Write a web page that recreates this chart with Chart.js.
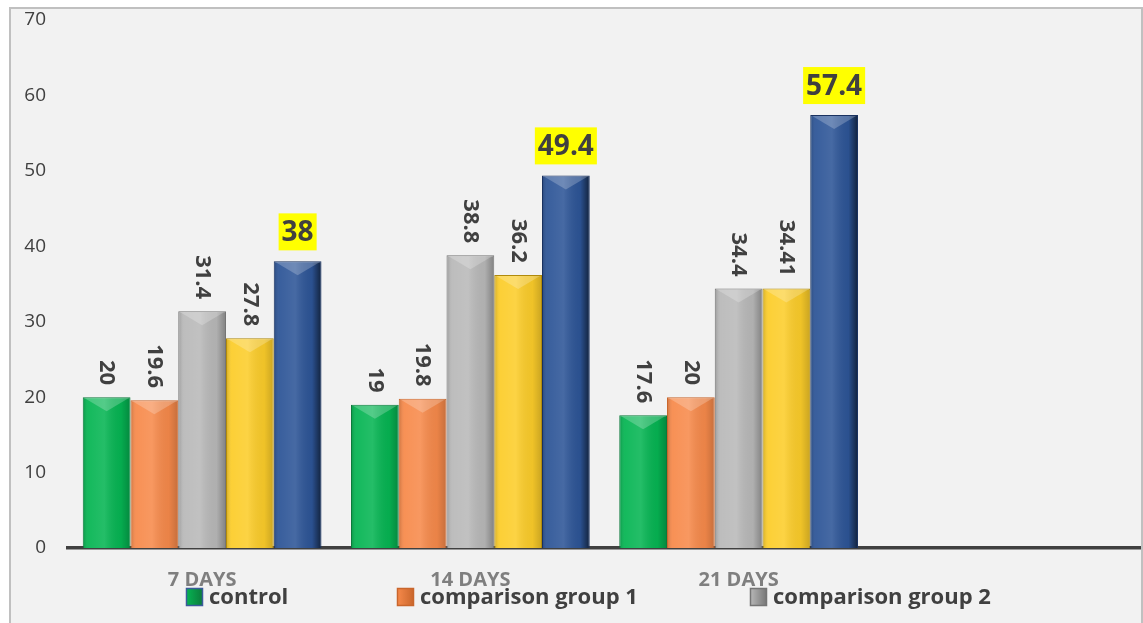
<!DOCTYPE html>
<html>
<head>
<meta charset="utf-8">
<script src="https://cdn.jsdelivr.net/npm/chart.js@4.4.0/dist/chart.umd.min.js"></script>
<style>
  html, body { margin: 0; padding: 0; background: #ffffff; overflow: hidden; }
  #frame {
    position: absolute; left: 9px; top: 7px;
    width: 1130px; height: 620px;
    background: #f2f2f2;
    border: 2px solid #c0c0c0; border-bottom: none;
  }
  #box { position: relative; width: 1130px; height: 614px; }
</style>
</head>
<body>
<div id="frame"><div id="box"><canvas id="myChart"></canvas></div></div>
<script>
// data
const categories = ["7 DAYS", "14 DAYS", "21 DAYS", ""];
const seriesNames = ["control", "comparison group 1", "comparison group 2", "comparison group 3", "comparison group 4"];
const control = [20, 19, 17.6];
const group1 = [19.6, 19.8, 20];
const group2 = [31.4, 38.8, 34.4];
const group3 = [27.8, 36.2, 34.41];
const group4 = [38, 49.4, 57.4];
const yTicks = [0, 10, 20, 30, 40, 50, 60, 70];

const fills = ["#06b553", "#f78a4b", "#b9b9b9", "#fccd2a", "#2d5597"];
const edges = ["#0c7a3b", "#c9662c", "#757575", "#b08a0c", "#1a3260"];
const shadeRight = [0.25, 0.2, 0.3, 0.2, 0.6];

const values = [control, group1, group2, group3, group4];

const data = {
  labels: categories,
  datasets: values.map((v, i) => ({
    label: seriesNames[i],
    data: v,
    backgroundColor: fills[i],
    borderColor: edges[i],
    borderWidth: 1,
  })),
};

// bevel-ish shading on top of the flat bars
const shading = {
  id: "shading",
  afterDatasetsDraw(chart) {
    const ctx = chart.ctx;
    chart.data.datasets.forEach((ds, di) => {
      chart.getDatasetMeta(di).data.forEach((bar) => {
        const p = bar.getProps(["x", "y", "base", "width"], true);
        const l = p.x - p.width / 2, r = p.x + p.width / 2;
        const g = ctx.createLinearGradient(l, 0, r, 0);
        g.addColorStop(0, "rgba(0,0,0,0.18)");
        g.addColorStop(0.12, "rgba(255,255,255,0.06)");
        g.addColorStop(0.45, "rgba(255,255,255,0.12)");
        g.addColorStop(0.8, "rgba(0,0,0,0.05)");
        g.addColorStop(1, "rgba(0,0,0," + shadeRight[di] + ")");
        ctx.save();
        ctx.fillStyle = g;
        ctx.fillRect(l + 1, p.y + 1, p.width - 2, p.base - p.y - 1);
        ctx.beginPath();
        ctx.moveTo(l + 2, p.y + 1);
        ctx.lineTo(r - 2, p.y + 1);
        ctx.lineTo(p.x, p.y + 14);
        ctx.closePath();
        ctx.fillStyle = "rgba(255,255,255,0.22)";
        ctx.fill();
        ctx.restore();
      });
    });
  },
};

// value labels
const valueLabels = {
  id: "valueLabels",
  afterDatasetsDraw(chart) {
    const ctx = chart.ctx;
    chart.data.datasets.forEach((ds, di) => {
      chart.getDatasetMeta(di).data.forEach((bar, i) => {
        const txt = String(ds.data[i]);
        const p = bar.getProps(["x", "y"], true);
        ctx.save();
        if (di < 4) {
          ctx.font = "bold 22px 'Open Sans'";
          ctx.fillStyle = "#404040";
          ctx.translate(p.x, p.y - 12);
          ctx.rotate(Math.PI / 2);
          ctx.textAlign = "right";
          ctx.textBaseline = "middle";
          ctx.fillText(txt, 0, 0);
        } else {
          ctx.font = "bold 28px 'Open Sans'";
          const w = ctx.measureText(txt).width;
          const bottom = p.y - 11;
          ctx.fillStyle = "#ffff00";
          ctx.fillRect(p.x - w / 2 - 3, bottom - 37, w + 6, 37);
          ctx.fillStyle = "#404040";
          ctx.textAlign = "center";
          ctx.textBaseline = "middle";
          ctx.fillText(txt, p.x, bottom - 17);
        }
        ctx.restore();
      });
    });
  },
};

// legend (only the first three series appear in it)
const legendX = [175, 386, 739];
const bottomLegend = {
  id: "bottomLegend",
  afterDraw(chart) {
    const ctx = chart.ctx;
    const cy = 588;
    legendX.forEach((x, i) => {
      ctx.save();
      const g = ctx.createLinearGradient(x, 0, x + 17, 0);
      g.addColorStop(0, fills[i]);
      g.addColorStop(1, edges[i]);
      ctx.fillStyle = g;
      ctx.fillRect(x, cy - 9, 17, 18);
      ctx.strokeStyle = i === 0 ? "#3b5b9b" : edges[i];
      ctx.lineWidth = 1.5;
      ctx.strokeRect(x + 0.5, cy - 8.5, 16, 17);
      ctx.font = "bold 22px 'Open Sans'";
      ctx.fillStyle = "#404040";
      ctx.textBaseline = "middle";
      ctx.fillText(seriesNames[i], x + 23, cy + 1);
      ctx.restore();
    });
  },
};

// config
const config = {
  type: "bar",
  data,
  plugins: [shading, valueLabels, bottomLegend],
  options: {
    responsive: true,
    maintainAspectRatio: false,
    animation: false,
    layout: { padding: { top: 0, right: 0, bottom: 0, left: 0 } },
    datasets: {
      bar: { categoryPercentage: 0.89, barPercentage: 1.0 },
    },
    scales: {
      x: {
        grid: { display: false, drawTicks: false },
        border: { display: true, color: "#404040", width: 3.5 },
        ticks: {
          color: "#7f7f7f",
          font: { family: "'Open Sans'", size: 20, weight: "bold" },
          padding: 20,
          maxRotation: 0,
          autoSkip: false,
        },
        afterFit(scale) { scale.height = 75; },
      },
      y: {
        min: 0,
        max: 70,
        grid: { display: false, drawTicks: false },
        border: { display: false },
        afterBuildTicks(scale) { scale.ticks = yTicks.map((v) => ({ value: v })); },
        ticks: {
          color: "#404040",
          font: { family: "'Open Sans'", size: 19 },
          padding: 22,
        },
        afterFit(scale) {
          scale.width = 57;
          scale.paddingTop = 11;
          scale.paddingBottom = 0;
        },
      },
    },
    plugins: {
      legend: { display: false },
      tooltip: { enabled: false },
    },
  },
};

// render init block
const myChart = new Chart(document.getElementById("myChart"), config);
</script>
</body>
</html>
